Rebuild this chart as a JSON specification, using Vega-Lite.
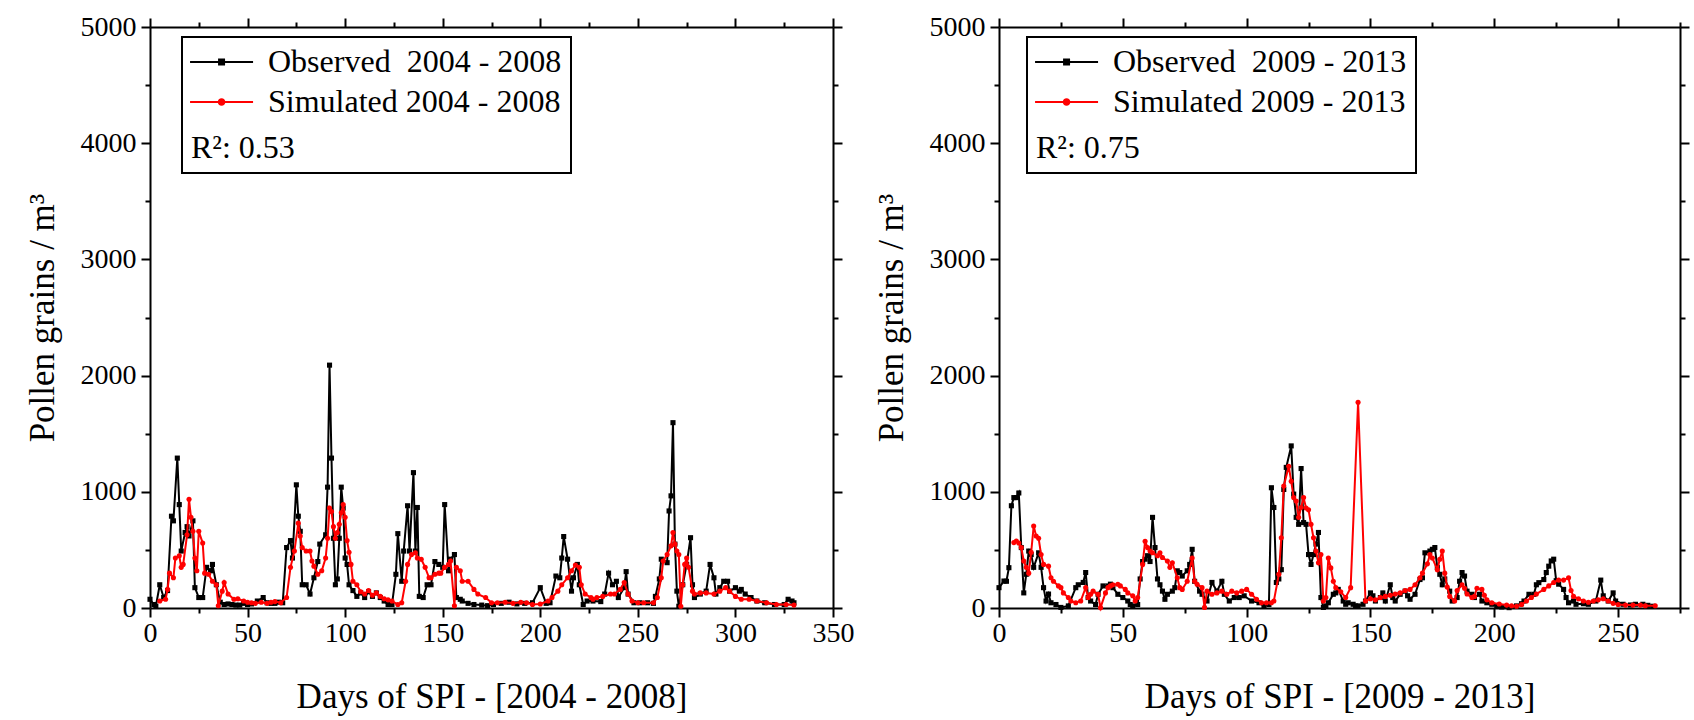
{
  "$schema": "https://vega.github.io/schema/vega-lite/v6.json",
  "background": "white",
  "padding": {"left": 25, "top": 13, "right": 5, "bottom": 5},
  "config": {
    "view": {"stroke": null},
    "font": "Liberation Serif",
    "style": {"guide-label": {"font": "Liberation Serif"}, "guide-title": {"font": "Liberation Serif"}},
    "legend": {"strokeWidth": 2, "labelFont": "Liberation Serif", "titleFont": "Liberation Serif"},
    "axis": {"domainColor": "black", "domainWidth": 2, "tickColor": "black", "tickWidth": 2, "grid": false, "labelColor": "black", "labelFont": "Liberation Serif", "labelFontSize": 28, "titleFont": "Liberation Serif", "titleFontSize": 35, "titleFontWeight": "normal", "titleColor": "black", "labelOverlap": false, "labelFlush": false}
  },
  "datasets": {
    "left": [
      {"series":"Observed","day":0,"value":75},{"series":"Observed","day":2,"value":30},{"series":"Observed","day":3,"value":15},{"series":"Observed","day":5,"value":200},{"series":"Observed","day":7,"value":90},{"series":"Observed","day":9,"value":150},{"series":"Observed","day":11,"value":790},{"series":"Observed","day":12,"value":750},{"series":"Observed","day":14,"value":1290},{"series":"Observed","day":15,"value":890},{"series":"Observed","day":16,"value":490},{"series":"Observed","day":18,"value":650},{"series":"Observed","day":19,"value":700},{"series":"Observed","day":20,"value":620},{"series":"Observed","day":22,"value":750},{"series":"Observed","day":23,"value":175},{"series":"Observed","day":25,"value":90},{"series":"Observed","day":27,"value":90},{"series":"Observed","day":29,"value":350},{"series":"Observed","day":31,"value":320},{"series":"Observed","day":32,"value":375},{"series":"Observed","day":34,"value":200},{"series":"Observed","day":36,"value":50},{"series":"Observed","day":38,"value":30},{"series":"Observed","day":40,"value":35},{"series":"Observed","day":42,"value":30},{"series":"Observed","day":44,"value":25},{"series":"Observed","day":46,"value":25},{"series":"Observed","day":48,"value":40},{"series":"Observed","day":50,"value":30},{"series":"Observed","day":52,"value":35},{"series":"Observed","day":55,"value":60},{"series":"Observed","day":58,"value":90},{"series":"Observed","day":60,"value":45},{"series":"Observed","day":62,"value":40},{"series":"Observed","day":64,"value":40},{"series":"Observed","day":66,"value":50},{"series":"Observed","day":68,"value":45},{"series":"Observed","day":70,"value":520},{"series":"Observed","day":72,"value":580},{"series":"Observed","day":73,"value":430},{"series":"Observed","day":75,"value":1060},{"series":"Observed","day":76,"value":790},{"series":"Observed","day":77,"value":660},{"series":"Observed","day":78,"value":200},{"series":"Observed","day":80,"value":200},{"series":"Observed","day":82,"value":120},{"series":"Observed","day":84,"value":260},{"series":"Observed","day":86,"value":400},{"series":"Observed","day":87,"value":550},{"series":"Observed","day":90,"value":630},{"series":"Observed","day":91,"value":1040},{"series":"Observed","day":92,"value":2090},{"series":"Observed","day":93,"value":1290},{"series":"Observed","day":94,"value":600},{"series":"Observed","day":95,"value":200},{"series":"Observed","day":96,"value":250},{"series":"Observed","day":97,"value":600},{"series":"Observed","day":98,"value":1040},{"series":"Observed","day":99,"value":860},{"series":"Observed","day":100,"value":430},{"series":"Observed","day":101,"value":375},{"series":"Observed","day":102,"value":200},{"series":"Observed","day":104,"value":150},{"series":"Observed","day":106,"value":100},{"series":"Observed","day":108,"value":130},{"series":"Observed","day":110,"value":90},{"series":"Observed","day":112,"value":140},{"series":"Observed","day":114,"value":100},{"series":"Observed","day":116,"value":130},{"series":"Observed","day":118,"value":90},{"series":"Observed","day":120,"value":60},{"series":"Observed","day":122,"value":30},{"series":"Observed","day":124,"value":30},{"series":"Observed","day":126,"value":290},{"series":"Observed","day":127,"value":640},{"series":"Observed","day":129,"value":230},{"series":"Observed","day":130,"value":490},{"series":"Observed","day":132,"value":880},{"series":"Observed","day":133,"value":490},{"series":"Observed","day":135,"value":1165},{"series":"Observed","day":136,"value":490},{"series":"Observed","day":137,"value":865},{"series":"Observed","day":138,"value":100},{"series":"Observed","day":140,"value":90},{"series":"Observed","day":142,"value":200},{"series":"Observed","day":144,"value":200},{"series":"Observed","day":146,"value":400},{"series":"Observed","day":148,"value":375},{"series":"Observed","day":150,"value":350},{"series":"Observed","day":151,"value":890},{"series":"Observed","day":153,"value":320},{"series":"Observed","day":154,"value":420},{"series":"Observed","day":156,"value":460},{"series":"Observed","day":157,"value":90},{"series":"Observed","day":159,"value":75},{"series":"Observed","day":160,"value":60},{"series":"Observed","day":163,"value":40},{"series":"Observed","day":166,"value":30},{"series":"Observed","day":170,"value":25},{"series":"Observed","day":173,"value":20},{"series":"Observed","day":176,"value":30},{"series":"Observed","day":180,"value":40},{"series":"Observed","day":184,"value":50},{"series":"Observed","day":188,"value":35},{"series":"Observed","day":192,"value":40},{"series":"Observed","day":196,"value":45},{"series":"Observed","day":200,"value":175},{"series":"Observed","day":203,"value":40},{"series":"Observed","day":205,"value":45},{"series":"Observed","day":208,"value":275},{"series":"Observed","day":210,"value":260},{"series":"Observed","day":211,"value":430},{"series":"Observed","day":212,"value":615},{"series":"Observed","day":214,"value":420},{"series":"Observed","day":216,"value":145},{"series":"Observed","day":217,"value":260},{"series":"Observed","day":219,"value":375},{"series":"Observed","day":220,"value":200},{"series":"Observed","day":222,"value":30},{"series":"Observed","day":224,"value":60},{"series":"Observed","day":227,"value":60},{"series":"Observed","day":231,"value":55},{"series":"Observed","day":233,"value":120},{"series":"Observed","day":235,"value":300},{"series":"Observed","day":237,"value":200},{"series":"Observed","day":239,"value":230},{"series":"Observed","day":240,"value":90},{"series":"Observed","day":243,"value":175},{"series":"Observed","day":244,"value":313},{"series":"Observed","day":245,"value":120},{"series":"Observed","day":248,"value":45},{"series":"Observed","day":251,"value":45},{"series":"Observed","day":255,"value":45},{"series":"Observed","day":258,"value":40},{"series":"Observed","day":259,"value":100},{"series":"Observed","day":261,"value":250},{"series":"Observed","day":262,"value":420},{"series":"Observed","day":265,"value":390},{"series":"Observed","day":266,"value":835},{"series":"Observed","day":267,"value":965},{"series":"Observed","day":268,"value":1595},{"series":"Observed","day":269,"value":550},{"series":"Observed","day":270,"value":145},{"series":"Observed","day":271,"value":15},{"series":"Observed","day":273,"value":200},{"series":"Observed","day":275,"value":375},{"series":"Observed","day":277,"value":605},{"series":"Observed","day":278,"value":200},{"series":"Observed","day":279,"value":90},{"series":"Observed","day":282,"value":120},{"series":"Observed","day":285,"value":145},{"series":"Observed","day":287,"value":375},{"series":"Observed","day":289,"value":260},{"series":"Observed","day":290,"value":120},{"series":"Observed","day":292,"value":175},{"series":"Observed","day":294,"value":230},{"series":"Observed","day":296,"value":230},{"series":"Observed","day":297,"value":145},{"series":"Observed","day":300,"value":175},{"series":"Observed","day":302,"value":145},{"series":"Observed","day":303,"value":160},{"series":"Observed","day":305,"value":120},{"series":"Observed","day":308,"value":90},{"series":"Observed","day":311,"value":60},{"series":"Observed","day":315,"value":45},{"series":"Observed","day":320,"value":30},{"series":"Observed","day":325,"value":30},{"series":"Observed","day":327,"value":75},{"series":"Observed","day":329,"value":60},{"series":"Observed","day":330,"value":45},
      {"series":"Simulated","day":5,"value":60},{"series":"Simulated","day":8,"value":75},{"series":"Simulated","day":9,"value":160},{"series":"Simulated","day":10,"value":300},{"series":"Simulated","day":12,"value":260},{"series":"Simulated","day":13,"value":430},{"series":"Simulated","day":15,"value":450},{"series":"Simulated","day":16,"value":350},{"series":"Simulated","day":17,"value":375},{"series":"Simulated","day":19,"value":630},{"series":"Simulated","day":20,"value":935},{"series":"Simulated","day":21,"value":780},{"series":"Simulated","day":22,"value":660},{"series":"Simulated","day":23,"value":430},{"series":"Simulated","day":24,"value":320},{"series":"Simulated","day":25,"value":660},{"series":"Simulated","day":27,"value":560},{"series":"Simulated","day":28,"value":300},{"series":"Simulated","day":30,"value":290},{"series":"Simulated","day":32,"value":230},{"series":"Simulated","day":34,"value":200},{"series":"Simulated","day":35,"value":20},{"series":"Simulated","day":37,"value":145},{"series":"Simulated","day":38,"value":220},{"series":"Simulated","day":40,"value":120},{"series":"Simulated","day":43,"value":75},{"series":"Simulated","day":45,"value":80},{"series":"Simulated","day":48,"value":60},{"series":"Simulated","day":50,"value":50},{"series":"Simulated","day":52,"value":45},{"series":"Simulated","day":54,"value":40},{"series":"Simulated","day":57,"value":50},{"series":"Simulated","day":60,"value":40},{"series":"Simulated","day":62,"value":50},{"series":"Simulated","day":64,"value":55},{"series":"Simulated","day":67,"value":45},{"series":"Simulated","day":70,"value":90},{"series":"Simulated","day":72,"value":350},{"series":"Simulated","day":74,"value":490},{"series":"Simulated","day":76,"value":730},{"series":"Simulated","day":77,"value":620},{"series":"Simulated","day":78,"value":520},{"series":"Simulated","day":80,"value":490},{"series":"Simulated","day":82,"value":490},{"series":"Simulated","day":83,"value":405},{"series":"Simulated","day":84,"value":360},{"series":"Simulated","day":86,"value":290},{"series":"Simulated","day":88,"value":320},{"series":"Simulated","day":90,"value":430},{"series":"Simulated","day":91,"value":600},{"series":"Simulated","day":92,"value":860},{"series":"Simulated","day":93,"value":830},{"series":"Simulated","day":94,"value":700},{"series":"Simulated","day":95,"value":600},{"series":"Simulated","day":96,"value":650},{"series":"Simulated","day":97,"value":720},{"series":"Simulated","day":98,"value":820},{"series":"Simulated","day":99,"value":890},{"series":"Simulated","day":100,"value":780},{"series":"Simulated","day":101,"value":580},{"series":"Simulated","day":102,"value":480},{"series":"Simulated","day":103,"value":375},{"series":"Simulated","day":104,"value":230},{"series":"Simulated","day":106,"value":200},{"series":"Simulated","day":108,"value":140},{"series":"Simulated","day":110,"value":120},{"series":"Simulated","day":112,"value":150},{"series":"Simulated","day":114,"value":110},{"series":"Simulated","day":116,"value":130},{"series":"Simulated","day":118,"value":100},{"series":"Simulated","day":120,"value":80},{"series":"Simulated","day":122,"value":70},{"series":"Simulated","day":124,"value":60},{"series":"Simulated","day":127,"value":30},{"series":"Simulated","day":129,"value":45},{"series":"Simulated","day":131,"value":230},{"series":"Simulated","day":132,"value":375},{"series":"Simulated","day":134,"value":460},{"series":"Simulated","day":136,"value":475},{"series":"Simulated","day":137,"value":430},{"series":"Simulated","day":139,"value":420},{"series":"Simulated","day":141,"value":350},{"series":"Simulated","day":143,"value":260},{"series":"Simulated","day":144,"value":260},{"series":"Simulated","day":146,"value":290},{"series":"Simulated","day":148,"value":300},{"series":"Simulated","day":149,"value":300},{"series":"Simulated","day":151,"value":350},{"series":"Simulated","day":153,"value":375},{"series":"Simulated","day":154,"value":405},{"series":"Simulated","day":156,"value":20},{"series":"Simulated","day":157,"value":350},{"series":"Simulated","day":159,"value":320},{"series":"Simulated","day":160,"value":230},{"series":"Simulated","day":163,"value":230},{"series":"Simulated","day":166,"value":160},{"series":"Simulated","day":168,"value":120},{"series":"Simulated","day":172,"value":90},{"series":"Simulated","day":175,"value":45},{"series":"Simulated","day":178,"value":45},{"series":"Simulated","day":182,"value":50},{"series":"Simulated","day":186,"value":40},{"series":"Simulated","day":190,"value":50},{"series":"Simulated","day":193,"value":45},{"series":"Simulated","day":196,"value":30},{"series":"Simulated","day":200,"value":35},{"series":"Simulated","day":204,"value":60},{"series":"Simulated","day":206,"value":90},{"series":"Simulated","day":209,"value":145},{"series":"Simulated","day":211,"value":200},{"series":"Simulated","day":214,"value":260},{"series":"Simulated","day":216,"value":320},{"series":"Simulated","day":218,"value":370},{"series":"Simulated","day":220,"value":350},{"series":"Simulated","day":221,"value":200},{"series":"Simulated","day":223,"value":120},{"series":"Simulated","day":226,"value":90},{"series":"Simulated","day":227,"value":75},{"series":"Simulated","day":229,"value":90},{"series":"Simulated","day":232,"value":100},{"series":"Simulated","day":236,"value":120},{"series":"Simulated","day":238,"value":120},{"series":"Simulated","day":241,"value":160},{"series":"Simulated","day":243,"value":220},{"series":"Simulated","day":245,"value":120},{"series":"Simulated","day":247,"value":60},{"series":"Simulated","day":250,"value":45},{"series":"Simulated","day":253,"value":45},{"series":"Simulated","day":258,"value":45},{"series":"Simulated","day":260,"value":90},{"series":"Simulated","day":262,"value":260},{"series":"Simulated","day":263,"value":405},{"series":"Simulated","day":265,"value":460},{"series":"Simulated","day":267,"value":535},{"series":"Simulated","day":268,"value":650},{"series":"Simulated","day":269,"value":550},{"series":"Simulated","day":270,"value":490},{"series":"Simulated","day":271,"value":460},{"series":"Simulated","day":272,"value":15},{"series":"Simulated","day":273,"value":200},{"series":"Simulated","day":274,"value":375},{"series":"Simulated","day":275,"value":430},{"series":"Simulated","day":276,"value":350},{"series":"Simulated","day":278,"value":145},{"series":"Simulated","day":279,"value":120},{"series":"Simulated","day":282,"value":130},{"series":"Simulated","day":285,"value":130},{"series":"Simulated","day":289,"value":120},{"series":"Simulated","day":292,"value":145},{"series":"Simulated","day":295,"value":175},{"series":"Simulated","day":297,"value":145},{"series":"Simulated","day":300,"value":100},{"series":"Simulated","day":303,"value":75},{"series":"Simulated","day":307,"value":75},{"series":"Simulated","day":311,"value":60},{"series":"Simulated","day":316,"value":45},{"series":"Simulated","day":321,"value":30},{"series":"Simulated","day":326,"value":30},{"series":"Simulated","day":330,"value":25}
    ],
    "right": [
      {"series":"Observed","day":0,"value":175},{"series":"Observed","day":2,"value":232},{"series":"Observed","day":3,"value":230},{"series":"Observed","day":4,"value":347},{"series":"Observed","day":5,"value":880},{"series":"Observed","day":6,"value":950},{"series":"Observed","day":7,"value":950},{"series":"Observed","day":8,"value":990},{"series":"Observed","day":9,"value":520},{"series":"Observed","day":10,"value":130},{"series":"Observed","day":11,"value":290},{"series":"Observed","day":12,"value":490},{"series":"Observed","day":13,"value":460},{"series":"Observed","day":14,"value":350},{"series":"Observed","day":16,"value":475},{"series":"Observed","day":17,"value":350},{"series":"Observed","day":18,"value":175},{"series":"Observed","day":19,"value":60},{"series":"Observed","day":20,"value":120},{"series":"Observed","day":21,"value":45},{"series":"Observed","day":23,"value":30},{"series":"Observed","day":25,"value":5},{"series":"Observed","day":28,"value":18},{"series":"Observed","day":31,"value":175},{"series":"Observed","day":32,"value":200},{"series":"Observed","day":34,"value":220},{"series":"Observed","day":35,"value":305},{"series":"Observed","day":36,"value":90},{"series":"Observed","day":37,"value":60},{"series":"Observed","day":39,"value":30},{"series":"Observed","day":40,"value":118},{"series":"Observed","day":42,"value":190},{"series":"Observed","day":44,"value":190},{"series":"Observed","day":45,"value":205},{"series":"Observed","day":46,"value":175},{"series":"Observed","day":48,"value":118},{"series":"Observed","day":50,"value":90},{"series":"Observed","day":52,"value":60},{"series":"Observed","day":53,"value":30},{"series":"Observed","day":54,"value":18},{"series":"Observed","day":56,"value":30},{"series":"Observed","day":57,"value":250},{"series":"Observed","day":58,"value":400},{"series":"Observed","day":59,"value":420},{"series":"Observed","day":60,"value":450},{"series":"Observed","day":61,"value":400},{"series":"Observed","day":62,"value":780},{"series":"Observed","day":63,"value":520},{"series":"Observed","day":64,"value":250},{"series":"Observed","day":65,"value":200},{"series":"Observed","day":66,"value":145},{"series":"Observed","day":67,"value":75},{"series":"Observed","day":68,"value":118},{"series":"Observed","day":70,"value":145},{"series":"Observed","day":71,"value":175},{"series":"Observed","day":72,"value":320},{"series":"Observed","day":73,"value":305},{"series":"Observed","day":74,"value":275},{"series":"Observed","day":76,"value":320},{"series":"Observed","day":77,"value":375},{"series":"Observed","day":78,"value":505},{"series":"Observed","day":79,"value":230},{"series":"Observed","day":81,"value":145},{"series":"Observed","day":82,"value":118},{"series":"Observed","day":84,"value":60},{"series":"Observed","day":86,"value":220},{"series":"Observed","day":88,"value":145},{"series":"Observed","day":90,"value":230},{"series":"Observed","day":91,"value":118},{"series":"Observed","day":93,"value":60},{"series":"Observed","day":95,"value":90},{"series":"Observed","day":97,"value":90},{"series":"Observed","day":99,"value":105},{"series":"Observed","day":102,"value":60},{"series":"Observed","day":105,"value":45},{"series":"Observed","day":107,"value":18},{"series":"Observed","day":109,"value":30},{"series":"Observed","day":110,"value":1035},{"series":"Observed","day":111,"value":865},{"series":"Observed","day":112,"value":220},{"series":"Observed","day":113,"value":250},{"series":"Observed","day":114,"value":330},{"series":"Observed","day":115,"value":1020},{"series":"Observed","day":116,"value":1210},{"series":"Observed","day":118,"value":1395},{"series":"Observed","day":119,"value":980},{"series":"Observed","day":120,"value":780},{"series":"Observed","day":121,"value":720},{"series":"Observed","day":122,"value":1200},{"series":"Observed","day":123,"value":735},{"series":"Observed","day":124,"value":720},{"series":"Observed","day":125,"value":460},{"series":"Observed","day":126,"value":375},{"series":"Observed","day":127,"value":460},{"series":"Observed","day":128,"value":550},{"series":"Observed","day":129,"value":650},{"series":"Observed","day":130,"value":90},{"series":"Observed","day":131,"value":5},{"series":"Observed","day":132,"value":18},{"series":"Observed","day":133,"value":45},{"series":"Observed","day":135,"value":118},{"series":"Observed","day":136,"value":130},{"series":"Observed","day":137,"value":160},{"series":"Observed","day":139,"value":60},{"series":"Observed","day":140,"value":32},{"series":"Observed","day":141,"value":45},{"series":"Observed","day":143,"value":32},{"series":"Observed","day":144,"value":18},{"series":"Observed","day":145,"value":18},{"series":"Observed","day":147,"value":32},{"series":"Observed","day":148,"value":60},{"series":"Observed","day":150,"value":130},{"series":"Observed","day":151,"value":105},{"series":"Observed","day":152,"value":60},{"series":"Observed","day":154,"value":90},{"series":"Observed","day":155,"value":130},{"series":"Observed","day":156,"value":60},{"series":"Observed","day":158,"value":200},{"series":"Observed","day":159,"value":90},{"series":"Observed","day":160,"value":60},{"series":"Observed","day":162,"value":118},{"series":"Observed","day":164,"value":145},{"series":"Observed","day":165,"value":105},{"series":"Observed","day":166,"value":75},{"series":"Observed","day":168,"value":118},{"series":"Observed","day":170,"value":245},{"series":"Observed","day":171,"value":260},{"series":"Observed","day":172,"value":475},{"series":"Observed","day":174,"value":490},{"series":"Observed","day":175,"value":505},{"series":"Observed","day":176,"value":520},{"series":"Observed","day":177,"value":350},{"series":"Observed","day":178,"value":290},{"series":"Observed","day":179,"value":200},{"series":"Observed","day":180,"value":250},{"series":"Observed","day":182,"value":145},{"series":"Observed","day":183,"value":60},{"series":"Observed","day":185,"value":90},{"series":"Observed","day":186,"value":230},{"series":"Observed","day":187,"value":305},{"series":"Observed","day":188,"value":275},{"series":"Observed","day":189,"value":145},{"series":"Observed","day":191,"value":118},{"series":"Observed","day":192,"value":90},{"series":"Observed","day":194,"value":118},{"series":"Observed","day":195,"value":60},{"series":"Observed","day":197,"value":45},{"series":"Observed","day":199,"value":32},{"series":"Observed","day":201,"value":18},{"series":"Observed","day":203,"value":9},{"series":"Observed","day":206,"value":3},{"series":"Observed","day":209,"value":18},{"series":"Observed","day":211,"value":37},{"series":"Observed","day":212,"value":60},{"series":"Observed","day":214,"value":118},{"series":"Observed","day":216,"value":118},{"series":"Observed","day":217,"value":200},{"series":"Observed","day":218,"value":218},{"series":"Observed","day":220,"value":245},{"series":"Observed","day":221,"value":305},{"series":"Observed","day":222,"value":360},{"series":"Observed","day":223,"value":405},{"series":"Observed","day":224,"value":420},{"series":"Observed","day":225,"value":235},{"series":"Observed","day":226,"value":205},{"series":"Observed","day":228,"value":160},{"series":"Observed","day":229,"value":90},{"series":"Observed","day":230,"value":45},{"series":"Observed","day":232,"value":60},{"series":"Observed","day":233,"value":32},{"series":"Observed","day":236,"value":37},{"series":"Observed","day":238,"value":32},{"series":"Observed","day":241,"value":60},{"series":"Observed","day":243,"value":240},{"series":"Observed","day":244,"value":105},{"series":"Observed","day":246,"value":60},{"series":"Observed","day":248,"value":130},{"series":"Observed","day":249,"value":60},{"series":"Observed","day":252,"value":32},{"series":"Observed","day":255,"value":26},{"series":"Observed","day":257,"value":32},{"series":"Observed","day":260,"value":32},{"series":"Observed","day":262,"value":23},{"series":"Observed","day":264,"value":15},
      {"series":"Simulated","day":6,"value":563},{"series":"Simulated","day":7,"value":577},{"series":"Simulated","day":8,"value":560},{"series":"Simulated","day":9,"value":520},{"series":"Simulated","day":10,"value":405},{"series":"Simulated","day":11,"value":350},{"series":"Simulated","day":12,"value":300},{"series":"Simulated","day":13,"value":480},{"series":"Simulated","day":14,"value":705},{"series":"Simulated","day":15,"value":620},{"series":"Simulated","day":16,"value":600},{"series":"Simulated","day":17,"value":460},{"series":"Simulated","day":18,"value":375},{"series":"Simulated","day":20,"value":360},{"series":"Simulated","day":21,"value":260},{"series":"Simulated","day":22,"value":230},{"series":"Simulated","day":24,"value":190},{"series":"Simulated","day":25,"value":175},{"series":"Simulated","day":26,"value":130},{"series":"Simulated","day":28,"value":90},{"series":"Simulated","day":29,"value":60},{"series":"Simulated","day":31,"value":45},{"series":"Simulated","day":33,"value":60},{"series":"Simulated","day":35,"value":175},{"series":"Simulated","day":36,"value":90},{"series":"Simulated","day":37,"value":118},{"series":"Simulated","day":38,"value":145},{"series":"Simulated","day":40,"value":118},{"series":"Simulated","day":41,"value":3},{"series":"Simulated","day":43,"value":130},{"series":"Simulated","day":44,"value":175},{"series":"Simulated","day":45,"value":190},{"series":"Simulated","day":46,"value":200},{"series":"Simulated","day":48,"value":205},{"series":"Simulated","day":49,"value":190},{"series":"Simulated","day":51,"value":160},{"series":"Simulated","day":52,"value":130},{"series":"Simulated","day":54,"value":105},{"series":"Simulated","day":55,"value":60},{"series":"Simulated","day":56,"value":90},{"series":"Simulated","day":58,"value":375},{"series":"Simulated","day":59,"value":575},{"series":"Simulated","day":60,"value":520},{"series":"Simulated","day":61,"value":490},{"series":"Simulated","day":62,"value":475},{"series":"Simulated","day":64,"value":450},{"series":"Simulated","day":65,"value":475},{"series":"Simulated","day":66,"value":435},{"series":"Simulated","day":68,"value":405},{"series":"Simulated","day":69,"value":350},{"series":"Simulated","day":70,"value":390},{"series":"Simulated","day":72,"value":260},{"series":"Simulated","day":73,"value":175},{"series":"Simulated","day":74,"value":160},{"series":"Simulated","day":76,"value":230},{"series":"Simulated","day":78,"value":430},{"series":"Simulated","day":79,"value":230},{"series":"Simulated","day":80,"value":205},{"series":"Simulated","day":82,"value":175},{"series":"Simulated","day":83,"value":5},{"series":"Simulated","day":84,"value":145},{"series":"Simulated","day":86,"value":118},{"series":"Simulated","day":88,"value":130},{"series":"Simulated","day":90,"value":145},{"series":"Simulated","day":92,"value":118},{"series":"Simulated","day":94,"value":145},{"series":"Simulated","day":96,"value":130},{"series":"Simulated","day":98,"value":145},{"series":"Simulated","day":100,"value":160},{"series":"Simulated","day":102,"value":118},{"series":"Simulated","day":104,"value":75},{"series":"Simulated","day":106,"value":45},{"series":"Simulated","day":108,"value":45},{"series":"Simulated","day":110,"value":45},{"series":"Simulated","day":111,"value":60},{"series":"Simulated","day":113,"value":290},{"series":"Simulated","day":114,"value":605},{"series":"Simulated","day":115,"value":1050},{"series":"Simulated","day":117,"value":1220},{"series":"Simulated","day":118,"value":1090},{"series":"Simulated","day":119,"value":950},{"series":"Simulated","day":120,"value":920},{"series":"Simulated","day":121,"value":780},{"series":"Simulated","day":122,"value":865},{"series":"Simulated","day":123,"value":950},{"series":"Simulated","day":124,"value":860},{"series":"Simulated","day":125,"value":845},{"series":"Simulated","day":126,"value":720},{"series":"Simulated","day":127,"value":605},{"series":"Simulated","day":128,"value":490},{"series":"Simulated","day":129,"value":390},{"series":"Simulated","day":130,"value":460},{"series":"Simulated","day":131,"value":60},{"series":"Simulated","day":132,"value":90},{"series":"Simulated","day":133,"value":430},{"series":"Simulated","day":134,"value":345},{"series":"Simulated","day":135,"value":230},{"series":"Simulated","day":136,"value":175},{"series":"Simulated","day":138,"value":140},{"series":"Simulated","day":140,"value":90},{"series":"Simulated","day":142,"value":175},{"series":"Simulated","day":145,"value":1770},{"series":"Simulated","day":148,"value":60},{"series":"Simulated","day":150,"value":80},{"series":"Simulated","day":152,"value":70},{"series":"Simulated","day":154,"value":90},{"series":"Simulated","day":156,"value":100},{"series":"Simulated","day":158,"value":110},{"series":"Simulated","day":160,"value":120},{"series":"Simulated","day":162,"value":130},{"series":"Simulated","day":164,"value":150},{"series":"Simulated","day":166,"value":160},{"series":"Simulated","day":168,"value":200},{"series":"Simulated","day":170,"value":260},{"series":"Simulated","day":171,"value":300},{"series":"Simulated","day":173,"value":380},{"series":"Simulated","day":174,"value":460},{"series":"Simulated","day":175,"value":430},{"series":"Simulated","day":177,"value":330},{"series":"Simulated","day":178,"value":420},{"series":"Simulated","day":179,"value":490},{"series":"Simulated","day":180,"value":300},{"series":"Simulated","day":181,"value":180},{"series":"Simulated","day":182,"value":100},{"series":"Simulated","day":184,"value":60},{"series":"Simulated","day":185,"value":150},{"series":"Simulated","day":187,"value":200},{"series":"Simulated","day":188,"value":170},{"series":"Simulated","day":189,"value":120},{"series":"Simulated","day":191,"value":90},{"series":"Simulated","day":192,"value":100},{"series":"Simulated","day":193,"value":170},{"series":"Simulated","day":195,"value":160},{"series":"Simulated","day":196,"value":110},{"series":"Simulated","day":197,"value":70},{"series":"Simulated","day":199,"value":45},{"series":"Simulated","day":202,"value":35},{"series":"Simulated","day":205,"value":25},{"series":"Simulated","day":207,"value":20},{"series":"Simulated","day":209,"value":15},{"series":"Simulated","day":211,"value":30},{"series":"Simulated","day":213,"value":60},{"series":"Simulated","day":215,"value":90},{"series":"Simulated","day":217,"value":120},{"series":"Simulated","day":220,"value":160},{"series":"Simulated","day":222,"value":190},{"series":"Simulated","day":224,"value":220},{"series":"Simulated","day":226,"value":240},{"series":"Simulated","day":228,"value":240},{"series":"Simulated","day":230,"value":260},{"series":"Simulated","day":231,"value":150},{"series":"Simulated","day":232,"value":100},{"series":"Simulated","day":234,"value":80},{"series":"Simulated","day":236,"value":60},{"series":"Simulated","day":238,"value":50},{"series":"Simulated","day":240,"value":60},{"series":"Simulated","day":242,"value":70},{"series":"Simulated","day":244,"value":80},{"series":"Simulated","day":246,"value":60},{"series":"Simulated","day":248,"value":40},{"series":"Simulated","day":250,"value":30},{"series":"Simulated","day":253,"value":25},{"series":"Simulated","day":256,"value":25},{"series":"Simulated","day":259,"value":25},{"series":"Simulated","day":261,"value":20},{"series":"Simulated","day":265,"value":20}
    ]
  },
  "spacing": 20,
  "resolve": {"scale": {"color": "independent", "shape": "independent"}, "legend": {"color": "independent", "shape": "independent"}},
  "hconcat": [
    {
      "width": 683, "height": 581,
      "data": {"name": "left"},
      "resolve": {"scale": {"x": "independent", "y": "independent"}},
      "layer": [
        {
          "transform": [{"filter": "datum.series === 'Observed'"}],
          "mark": {"type": "line", "strokeWidth": 2, "color": "#000000"},
          "encoding": {
            "x": {"field": "day", "type": "quantitative", "scale": {"domain": [0, 350], "nice": false, "zero": false},
              "axis": {"orient": "bottom", "values": [0,25,50,75,100,125,150,175,200,225,250,275,300,325,350], "format": "d", "labelExpr": "datum.value % 50 === 0 ? datum.label : ''", "tickSize": {"condition": {"test": "datum.value % 50 === 0", "value": 9}, "value": 5}, "labelPadding": 2, "labelFont": "Liberation Serif", "labelFontSize": 28, "title": "Days of SPI - [2004 - 2008]", "titlePadding": 32}},
            "y": {"field": "value", "type": "quantitative", "scale": {"domain": [0, 5000], "nice": false},
              "axis": {"orient": "left", "values": [0,500,1000,1500,2000,2500,3000,3500,4000,4500,5000], "format": "d", "labelExpr": "datum.value % 1000 === 0 ? datum.label : ''", "tickSize": {"condition": {"test": "datum.value % 1000 === 0", "value": 9}, "value": 5}, "labelPadding": 5, "labelFont": "Liberation Serif", "labelFontSize": 28, "title": "Pollen grains / m³", "titlePadding": 20}}
          }
        },
        {
          "transform": [{"filter": "datum.series === 'Observed'"}],
          "mark": {"type": "point", "shape": "square", "filled": true, "size": 26, "color": "#000000", "opacity": 1},
          "encoding": {
            "x": {"field": "day", "type": "quantitative", "scale": {"domain": [0, 350], "nice": false, "zero": false}, "axis": null},
            "y": {"field": "value", "type": "quantitative", "scale": {"domain": [0, 5000], "nice": false}, "axis": null}
          }
        },
        {
          "transform": [{"filter": "datum.series === 'Simulated'"}],
          "mark": {"type": "line", "strokeWidth": 2, "color": "#ff0000"},
          "encoding": {
            "x": {"field": "day", "type": "quantitative", "scale": {"domain": [0, 350], "nice": false, "zero": false}, "axis": null},
            "y": {"field": "value", "type": "quantitative", "scale": {"domain": [0, 5000], "nice": false}, "axis": null}
          }
        },
        {
          "transform": [{"filter": "datum.series === 'Simulated'"}],
          "mark": {"type": "point", "shape": "circle", "filled": true, "size": 26, "color": "#ff0000", "opacity": 1},
          "encoding": {
            "x": {"field": "day", "type": "quantitative", "scale": {"domain": [0, 350], "nice": false, "zero": false},
              "axis": {"orient": "top", "values": [0,25,50,75,100,125,150,175,200,225,250,275,300,325,350], "labels": false, "tickSize": {"condition": {"test": "datum.value % 50 === 0", "value": 9}, "value": 5}, "title": null}},
            "y": {"field": "value", "type": "quantitative", "scale": {"domain": [0, 5000], "nice": false},
              "axis": {"orient": "right", "values": [0,500,1000,1500,2000,2500,3000,3500,4000,4500,5000], "labels": false, "tickSize": {"condition": {"test": "datum.value % 1000 === 0", "value": 9}, "value": 5}, "title": null}}
          }
        },
        {
          "mark": {"type": "point", "filled": true, "opacity": 0},
          "encoding": {
            "x": {"field": "day", "type": "quantitative", "scale": {"domain": [0, 350], "nice": false, "zero": false}, "axis": null},
            "y": {"field": "value", "type": "quantitative", "scale": {"domain": [0, 5000], "nice": false}, "axis": null},
            "color": {"field": "series", "type": "nominal", "scale": {"domain": ["Observed", "Simulated"], "range": ["#000000", "#ff0000"]},
              "legend": {"orient": "none", "legendX": 32, "legendY": 10, "title": "\u00a0\u00a0\u00a0\u00a0\u00a0R²: 0.53", "titleOrient": "bottom", "titleAnchor": "start", "titleFont": "Liberation Serif", "titleFontSize": 32, "titleFontWeight": "normal", "titleColor": "black", "titlePadding": 15, "labelExpr": "datum.value === 'Observed' ? 'Observed\u00a0 2004 - 2008' : 'Simulated 2004 - 2008'", "labelFont": "Liberation Serif", "labelFontSize": 32, "labelColor": "black", "labelOffset": 45, "labelLimit": 0, "symbolSize": 784, "symbolStrokeWidth": 0, "symbolStrokeColor": "transparent", "symbolOpacity": 1, "rowPadding": 8, "padding": 9, "strokeColor": "black", "fillColor": "white"}},
            "shape": {"field": "series", "type": "nominal", "scale": {"domain": ["Observed", "Simulated"], "range": ["M-1.21,-0.07H3.29V0.07H-1.21Z M0.79,-0.25H1.29V0.25H0.79Z", "M-1.21,-0.07H3.29V0.07H-1.21Z M1.31,0A0.27,0.27,0,1,1,0.77,0A0.27,0.27,0,1,1,1.31,0Z"]},
              "legend": {"orient": "none", "legendX": 32, "legendY": 10, "title": "\u00a0\u00a0\u00a0\u00a0\u00a0R²: 0.53", "titleOrient": "bottom", "titleAnchor": "start", "titleFont": "Liberation Serif", "titleFontSize": 32, "titleFontWeight": "normal", "titleColor": "black", "titlePadding": 15, "labelExpr": "datum.value === 'Observed' ? 'Observed\u00a0 2004 - 2008' : 'Simulated 2004 - 2008'", "labelFont": "Liberation Serif", "labelFontSize": 32, "labelColor": "black", "labelOffset": 45, "labelLimit": 0, "symbolSize": 784, "symbolStrokeWidth": 0, "symbolStrokeColor": "transparent", "symbolOpacity": 1, "rowPadding": 8, "padding": 9, "strokeColor": "black", "fillColor": "white"}}
          }
        }
      ]
    },
    {
      "width": 681, "height": 581,
      "data": {"name": "right"},
      "resolve": {"scale": {"x": "independent", "y": "independent"}},
      "layer": [
        {
          "transform": [{"filter": "datum.series === 'Observed'"}],
          "mark": {"type": "line", "strokeWidth": 2, "color": "#000000"},
          "encoding": {
            "x": {"field": "day", "type": "quantitative", "scale": {"domain": [0, 275], "nice": false, "zero": false},
              "axis": {"orient": "bottom", "values": [0,25,50,75,100,125,150,175,200,225,250,275], "format": "d", "labelExpr": "datum.value % 50 === 0 ? datum.label : ''", "tickSize": {"condition": {"test": "datum.value % 50 === 0", "value": 9}, "value": 5}, "labelPadding": 2, "labelFont": "Liberation Serif", "labelFontSize": 28, "title": "Days of SPI - [2009 - 2013]", "titlePadding": 32}},
            "y": {"field": "value", "type": "quantitative", "scale": {"domain": [0, 5000], "nice": false},
              "axis": {"orient": "left", "values": [0,500,1000,1500,2000,2500,3000,3500,4000,4500,5000], "format": "d", "labelExpr": "datum.value % 1000 === 0 ? datum.label : ''", "tickSize": {"condition": {"test": "datum.value % 1000 === 0", "value": 9}, "value": 5}, "labelPadding": 5, "labelFont": "Liberation Serif", "labelFontSize": 28, "title": "Pollen grains / m³", "titlePadding": 20}}
          }
        },
        {
          "transform": [{"filter": "datum.series === 'Observed'"}],
          "mark": {"type": "point", "shape": "square", "filled": true, "size": 26, "color": "#000000", "opacity": 1},
          "encoding": {
            "x": {"field": "day", "type": "quantitative", "scale": {"domain": [0, 275], "nice": false, "zero": false}, "axis": null},
            "y": {"field": "value", "type": "quantitative", "scale": {"domain": [0, 5000], "nice": false}, "axis": null}
          }
        },
        {
          "transform": [{"filter": "datum.series === 'Simulated'"}],
          "mark": {"type": "line", "strokeWidth": 2, "color": "#ff0000"},
          "encoding": {
            "x": {"field": "day", "type": "quantitative", "scale": {"domain": [0, 275], "nice": false, "zero": false}, "axis": null},
            "y": {"field": "value", "type": "quantitative", "scale": {"domain": [0, 5000], "nice": false}, "axis": null}
          }
        },
        {
          "transform": [{"filter": "datum.series === 'Simulated'"}],
          "mark": {"type": "point", "shape": "circle", "filled": true, "size": 26, "color": "#ff0000", "opacity": 1},
          "encoding": {
            "x": {"field": "day", "type": "quantitative", "scale": {"domain": [0, 275], "nice": false, "zero": false},
              "axis": {"orient": "top", "values": [0,25,50,75,100,125,150,175,200,225,250,275], "labels": false, "tickSize": {"condition": {"test": "datum.value % 50 === 0", "value": 9}, "value": 5}, "title": null}},
            "y": {"field": "value", "type": "quantitative", "scale": {"domain": [0, 5000], "nice": false},
              "axis": {"orient": "right", "values": [0,500,1000,1500,2000,2500,3000,3500,4000,4500,5000], "labels": false, "tickSize": {"condition": {"test": "datum.value % 1000 === 0", "value": 9}, "value": 5}, "title": null}}
          }
        },
        {
          "mark": {"type": "point", "filled": true, "opacity": 0},
          "encoding": {
            "x": {"field": "day", "type": "quantitative", "scale": {"domain": [0, 275], "nice": false, "zero": false}, "axis": null},
            "y": {"field": "value", "type": "quantitative", "scale": {"domain": [0, 5000], "nice": false}, "axis": null},
            "color": {"field": "series", "type": "nominal", "scale": {"domain": ["Observed", "Simulated"], "range": ["#000000", "#ff0000"]},
              "legend": {"orient": "none", "legendX": 28, "legendY": 10, "title": "\u00a0\u00a0\u00a0\u00a0\u00a0R²: 0.75", "titleOrient": "bottom", "titleAnchor": "start", "titleFont": "Liberation Serif", "titleFontSize": 32, "titleFontWeight": "normal", "titleColor": "black", "titlePadding": 15, "labelExpr": "datum.value === 'Observed' ? 'Observed\u00a0 2009 - 2013' : 'Simulated 2009 - 2013'", "labelFont": "Liberation Serif", "labelFontSize": 32, "labelColor": "black", "labelOffset": 45, "labelLimit": 0, "symbolSize": 784, "symbolStrokeWidth": 0, "symbolStrokeColor": "transparent", "symbolOpacity": 1, "rowPadding": 8, "padding": 9, "strokeColor": "black", "fillColor": "white"}},
            "shape": {"field": "series", "type": "nominal", "scale": {"domain": ["Observed", "Simulated"], "range": ["M-1.21,-0.07H3.29V0.07H-1.21Z M0.79,-0.25H1.29V0.25H0.79Z", "M-1.21,-0.07H3.29V0.07H-1.21Z M1.31,0A0.27,0.27,0,1,1,0.77,0A0.27,0.27,0,1,1,1.31,0Z"]},
              "legend": {"orient": "none", "legendX": 28, "legendY": 10, "title": "\u00a0\u00a0\u00a0\u00a0\u00a0R²: 0.75", "titleOrient": "bottom", "titleAnchor": "start", "titleFont": "Liberation Serif", "titleFontSize": 32, "titleFontWeight": "normal", "titleColor": "black", "titlePadding": 15, "labelExpr": "datum.value === 'Observed' ? 'Observed\u00a0 2009 - 2013' : 'Simulated 2009 - 2013'", "labelFont": "Liberation Serif", "labelFontSize": 32, "labelColor": "black", "labelOffset": 45, "labelLimit": 0, "symbolSize": 784, "symbolStrokeWidth": 0, "symbolStrokeColor": "transparent", "symbolOpacity": 1, "rowPadding": 8, "padding": 9, "strokeColor": "black", "fillColor": "white"}}
          }
        }
      ]
    }
  ]
}
